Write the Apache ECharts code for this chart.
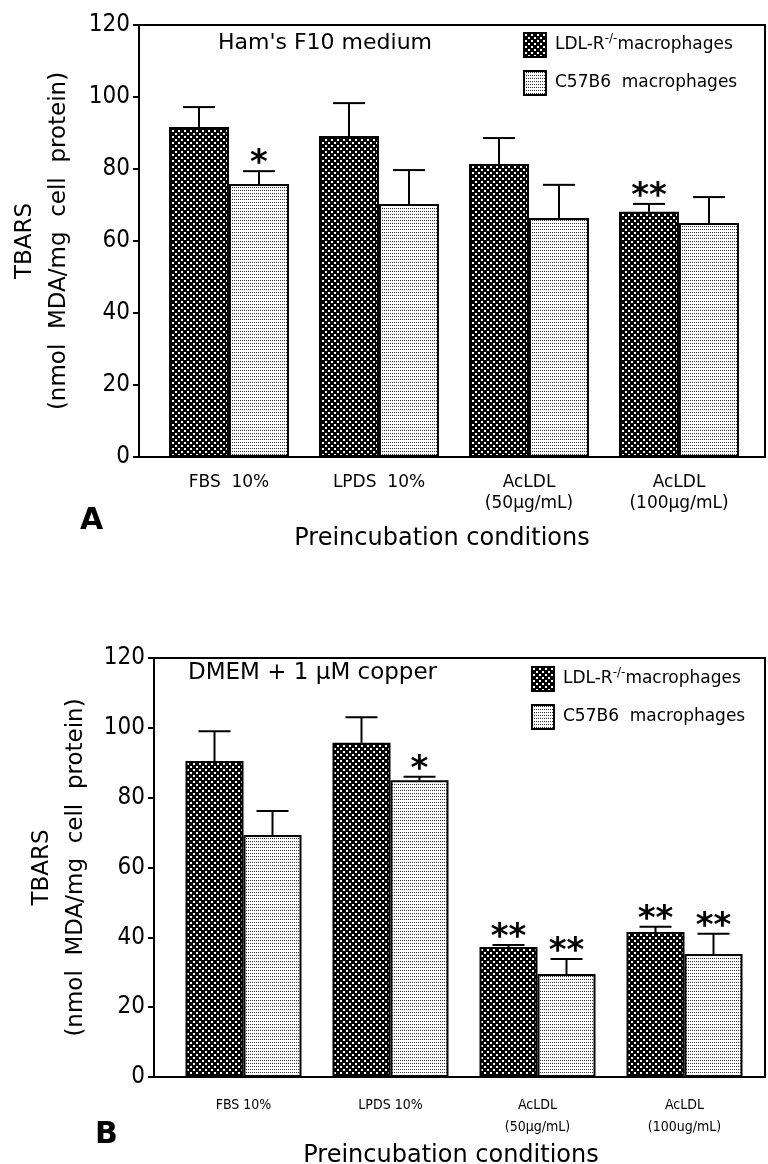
<!DOCTYPE html>
<html>
<head>
<meta charset="utf-8">
<script src="https://cdn.jsdelivr.net/npm/echarts@6/dist/echarts.min.js"></script>
<style>
html, body { margin: 0; padding: 0; background: #fff; }
#chart { width: 768px; height: 1164px; }
</style>
</head>
<body>
<div id="chart"></div>
<script>
// 数据
const categoriesA = ['FBS  10%', 'LPDS  10%', 'AcLDL\n(50μg/mL)', 'AcLDL\n(100μg/mL)'];
const categoriesB = ['FBS 10%', 'LPDS 10%', 'AcLDL\n(50μg/mL)', 'AcLDL\n(100ug/mL)'];
const yTicks = [0, 20, 40, 60, 80, 100, 120];

// A: Ham's F10 medium
const ldlA = [91.7, 89.2, 81.4, 68.1];
const ldlErrA = [5.5, 9.1, 7.2, 2.2];
const c57A = [75.8, 70.3, 66.4, 65.0];
const c57ErrA = [3.6, 9.4, 9.2, 7.2];
const ldlStarsA = ['', '', '', '**'];
const c57StarsA = ['*', '', '', ''];

// B: DMEM + 1 μM copper
const ldlB = [90.5, 95.7, 37.2, 41.5];
const ldlErrB = [8.5, 7.3, 0.6, 1.5];
const c57B = [69.3, 85.0, 29.5, 35.2];
const c57ErrB = [6.9, 1.0, 4.3, 5.8];
const ldlStarsB = ['', '', '**', '**'];
const c57StarsB = ['', '*', '**', '**'];

const NAME_LDL = 'LDL-R-/-macrophages';
const NAME_C57 = 'C57B6 macrophages';

const FONT = 'DejaVu Sans';
const NARROW = '"DejaVu Sans Condensed", "Liberation Sans Narrow", "DejaVu Sans"';

window.addEventListener('DOMContentLoaded', function() {
    const chart = echarts.init(document.getElementById('chart'));
    chart.setOption(buildOption());
});

// 深色网点填充
function darkPattern() {
    const c = document.createElement('canvas');
    c.width = 6;
    c.height = 6;
    const ctx = c.getContext('2d');
    ctx.fillStyle = '#000';
    ctx.fillRect(0, 0, 6, 6);
    ctx.fillStyle = '#fff';
    ctx.fillRect(1, 1, 2, 2);
    ctx.fillRect(4, 4, 2, 2);
    return c;
}

// 浅色点阵填充
function lightPattern() {
    const c = document.createElement('canvas');
    c.width = 2;
    c.height = 3;
    const ctx = c.getContext('2d');
    ctx.fillStyle = '#fff';
    ctx.fillRect(0, 0, 2, 3);
    ctx.fillStyle = '#333';
    ctx.fillRect(0, 1, 1, 1);
    return c;
}

const darkFill = { image: darkPattern(), repeat: 'repeat' };
const lightFill = { image: lightPattern(), repeat: 'repeat' };

function barSeries(name, data, axisIdx, fill, barWidth) {
    return {
        name: name,
        type: 'bar',
        xAxisIndex: axisIdx,
        yAxisIndex: axisIdx,
        data: data,
        barWidth: barWidth,
        barGap: '0%',
        silent: true,
        itemStyle: { color: fill, borderColor: '#000', borderWidth: 2 }
    };
}

// 误差线 + 星号
function errSeries(means, errs, stars, axisIdx, side, barWidth, starSize) {
    return {
        type: 'custom',
        name: 'err',
        xAxisIndex: axisIdx,
        yAxisIndex: axisIdx,
        silent: true,
        z: 3,
        data: means.map((m, i) => [i, m, m + errs[i]]),
        renderItem: function(params, api) {
            const base = api.coord([api.value(0), api.value(1)]);
            const top = api.coord([api.value(0), api.value(2)]);
            const x = base[0] + side * barWidth / 2;
            const half = 16;
            const children = [
                { type: 'line', shape: { x1: x, y1: base[1], x2: x, y2: top[1] }, style: { stroke: '#000', lineWidth: 2 } },
                { type: 'line', shape: { x1: x - half, y1: top[1], x2: x + half, y2: top[1] }, style: { stroke: '#000', lineWidth: 2 } }
            ];
            const s = stars[params.dataIndex];
            if (s) {
                children.push({
                    type: 'text',
                    style: {
                        text: s, x: x, y: top[1] + 10,
                        align: 'center', verticalAlign: 'bottom',
                        font: 'bold ' + starSize + 'px ' + FONT, fill: '#000'
                    }
                });
            }
            return { type: 'group', children: children };
        }
    };
}

function legendOf(left, top, fontSize, family) {
    return {
        data: [NAME_LDL, NAME_C57],
        left: left,
        top: top,
        orient: 'vertical',
        padding: 0,
        icon: 'rect',
        itemWidth: 22,
        itemHeight: 24,
        itemGap: 12,
        selectedMode: false,
        formatter: function(name) {
            return name === NAME_LDL ? '{n|LDL-R}{s|-/-}{n|macrophages}' : '{n|C57B6  macrophages}';
        },
        textStyle: {
            padding: [0, 0, 0, 4],
            rich: {
                n: { fontSize: fontSize, fontFamily: family, color: '#000', lineHeight: 24 },
                s: { fontSize: 12, fontFamily: family, color: '#000', verticalAlign: 'top', lineHeight: 24 }
            }
        }
    };
}

function frameGrid(left, top, height) {
    return {
        left: left, right: 3, top: top, height: height,
        show: true, borderColor: '#000', borderWidth: 2, backgroundColor: 'transparent',
        outerBoundsMode: 'none'
    };
}

function valueAxis(gridIdx, visible, nameGap) {
    const axis = {
        type: 'value',
        gridIndex: gridIdx,
        min: yTicks[0],
        max: yTicks[yTicks.length - 1],
        interval: yTicks[1] - yTicks[0],
        splitLine: { show: false }
    };
    if (!visible) {
        axis.show = false;
        return axis;
    }
    axis.axisLine = { show: true, lineStyle: { color: '#000', width: 2 } };
    axis.axisTick = { show: true, inside: false, length: 6, lineStyle: { color: '#000', width: 2 } };
    axis.axisLabel = { color: '#000', fontSize: 24, fontFamily: NARROW, margin: 9 };
    axis.name = 'TBARS\n(nmol  MDA/mg  cell  protein)';
    axis.nameLocation = 'middle';
    axis.nameRotate = 90;
    axis.nameGap = nameGap;
    axis.nameTextStyle = { color: '#000', fontSize: 23, fontFamily: FONT, lineHeight: 34 };
    return axis;
}

function categoryAxis(gridIdx, data, fontSize, family, lineHeight, margin) {
    return {
        type: 'category',
        gridIndex: gridIdx,
        data: data,
        axisLine: { show: false },
        axisTick: { show: false },
        axisLabel: { color: '#000', fontSize: fontSize, fontFamily: family, lineHeight: lineHeight, margin: margin, interval: 0 }
    };
}

function titleText(text, left, top, size, weight, align) {
    return {
        text: text, left: left, top: top, padding: 0,
        textAlign: align || 'left',
        textStyle: { color: '#000', fontSize: size, fontWeight: weight || 'normal', fontFamily: FONT }
    };
}

function buildOption() {
    return {
        animation: false,
        backgroundColor: '#fff',
        title: [
            titleText("Ham's F10 medium", 218, 32, 22),
            titleText('A', 80, 506, 30, 'bold'),
            titleText('Preincubation conditions', 442, 527, 24, 'normal', 'center'),
            titleText('DMEM + 1 μM copper', 188, 662, 23),
            titleText('B', 95, 1120, 30, 'bold'),
            titleText('Preincubation conditions', 451, 1144, 24, 'normal', 'center')
        ],
        legend: [
            legendOf(523, 32, 17, FONT),
            legendOf(531, 666, 17, FONT)
        ],
        grid: [
            frameGrid(139, 25, 432),
            { left: 154, right: 14, top: 25, height: 432, outerBoundsMode: 'none' },
            frameGrid(154, 658, 419),
            { left: 170, right: 10, top: 658, height: 419, outerBoundsMode: 'none' }
        ],
        xAxis: [
            { type: 'value', gridIndex: 0, show: false },
            categoryAxis(1, categoriesA, 17, FONT, 21, 15),
            { type: 'value', gridIndex: 2, show: false },
            categoryAxis(3, categoriesB, 14, NARROW, 22, 17)
        ],
        yAxis: [
            valueAxis(0, true, 63),
            valueAxis(1, false),
            valueAxis(2, true, 57),
            valueAxis(3, false)
        ],
        series: [
            barSeries(NAME_LDL, ldlA, 1, darkFill, 60),
            barSeries(NAME_C57, c57A, 1, lightFill, 60),
            errSeries(ldlA, ldlErrA, ldlStarsA, 1, -1, 60, 34),
            errSeries(c57A, c57ErrA, c57StarsA, 1, 1, 60, 34),
            barSeries(NAME_LDL, ldlB, 3, darkFill, 58),
            barSeries(NAME_C57, c57B, 3, lightFill, 58),
            errSeries(ldlB, ldlErrB, ldlStarsB, 3, -1, 58, 34),
            errSeries(c57B, c57ErrB, c57StarsB, 3, 1, 58, 34)
        ]
    };
}
</script>
</body>
</html>
